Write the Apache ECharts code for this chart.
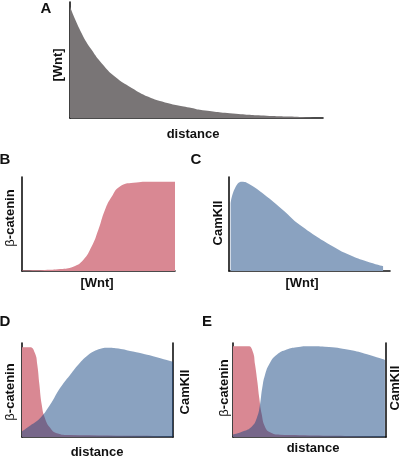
<!DOCTYPE html>
<html><head><meta charset="utf-8">
<script src="https://cdn.jsdelivr.net/npm/echarts@6/dist/echarts.min.js"></script>
<style>html,body{margin:0;padding:0;background:#fff}#c{width:400px;height:457px}</style>
</head><body><div id="c"></div><script>
// Panel A: [Wnt] vs distance
const aX = [0, 4.8, 8.9, 13, 18.4, 25.2, 32, 38.8, 49.7, 53, 66.5, 80.3, 93.9, 100];
const aY = [1.0, 0.76, 0.61, 0.49, 0.37, 0.27, 0.19, 0.14, 0.09, 0.074, 0.04, 0.02, 0.01, 0.005];
// Panel B: beta-catenin vs [Wnt]
const bX = [0, 15, 25, 33.5, 40, 45.5, 49.9, 54.2, 58.6, 64, 72.8, 85, 100];
const bY = [0.005, 0.01, 0.02, 0.046, 0.117, 0.26, 0.44, 0.65, 0.79, 0.90, 0.94, 0.95, 0.95];
// Panel C: CamKII vs [Wnt]
const cX = [1, 3.7, 8.1, 13, 23.6, 33.5, 44.1, 64.6, 75, 85.7, 95.7];
const cY = [0.72, 0.88, 0.95, 0.92, 0.79, 0.65, 0.49, 0.26, 0.17, 0.10, 0.05];
// Panel D: beta-catenin & CamKII vs distance
const dPinkX = [0, 5.3, 8.6, 10.1, 11.5, 13.1, 15.2, 18.5, 23, 31.8, 100];
const dPinkY = [0.955, 0.955, 0.89, 0.77, 0.56, 0.34, 0.20, 0.10, 0.04, 0.02, 0.01];
const dBlueX = [0, 5.3, 11.9, 18.5, 25.2, 31.8, 38.4, 44, 48, 52, 56, 62, 73.5, 86.8, 100];
const dBlueY = [0.06, 0.12, 0.20, 0.34, 0.52, 0.66, 0.79, 0.875, 0.915, 0.94, 0.95, 0.945, 0.91, 0.86, 0.80];
// Panel E
const ePinkX = [0, 10, 12.9, 14.4, 15.9, 17.2, 18.8, 20.9, 24.2, 30.7, 100];
const ePinkY = [0.965, 0.965, 0.91, 0.77, 0.59, 0.41, 0.24, 0.11, 0.05, 0.025, 0.01];
const eBlueX = [0, 6.7, 12.2, 15.5, 17.6, 19.1, 20.9, 24.2, 28.6, 35.1, 41.6, 50.3, 60, 76.5, 87.6, 99.3];
const eBlueY = [0.025, 0.06, 0.11, 0.2, 0.34, 0.52, 0.66, 0.79, 0.875, 0.93, 0.955, 0.965, 0.96, 0.925, 0.88, 0.82];

const zip = (xs, ys) => xs.map((x, i) => [x, ys[i]]);
const GRAY = '#797576', PINK = '#d98893', BLUE = '#8aa2c0', BLUE_T = 'rgba(21,69,129,0.5)';
const FF = '"Liberation Sans", Arial, Helvetica, sans-serif';
const axLine = {show: true, lineStyle: {color: '#111', width: 1.6}};
const xAx = (gi, max) => ({type: 'value', gridIndex: gi, min: 0, max: max, axisLine: axLine, axisTick: {show: false}, axisLabel: {show: false}, splitLine: {show: false}});
const yAx = (gi, max, pos) => ({type: 'value', gridIndex: gi, min: 0, max: max, position: pos || 'left', axisLine: axLine, axisTick: {show: false}, axisLabel: {show: false}, splitLine: {show: false}});
const area = (xi, yi, data, color, z) => ({type: 'line', xAxisIndex: xi, yAxisIndex: yi, data: data, smooth: 0.5, showSymbol: false, symbol: 'none', lineStyle: {width: 0}, areaStyle: {color: color, opacity: 1}, z: z || 2, silent: true});

const txt = (x, y, text, size, rot, extra) => Object.assign({
  type: 'text', x: x, y: y, rotation: rot || 0, silent: true,
  style: {text: text, font: 'bold ' + size + 'px ' + FF, fill: '#111', align: 'center', verticalAlign: 'middle', textAlign: 'center', textVerticalAlign: 'middle',
    rich: {r: {fontFamily: FF, fontSize: size, fontWeight: 'normal', fill: '#111'}}}
}, extra || {});
const R = Math.PI / 2;

const chart = echarts.init(document.getElementById('c'), null, {renderer: 'canvas'});
chart.setOption({
  animation: false,
  grid: [
    {left: 70, top: 2, width: 253, height: 116},
    {left: 22, top: 177, width: 153, height: 94},
    {left: 229, top: 177, width: 161, height: 94},
    {left: 22, top: 343, width: 151, height: 94},
    {left: 233, top: 343, width: 153, height: 94}
  ],
  xAxis: [xAx(0, 103.3), xAx(1, 100), xAx(2, 100), xAx(3, 100), xAx(4, 100)],
  yAxis: [yAx(0, 1.042), yAx(1, 1), yAx(2, 1), yAx(3, 1), yAx(4, 1), yAx(3, 1, 'right'), yAx(4, 1, 'right')],
  series: [
    area(0, 0, zip(aX, aY), GRAY),
    area(1, 1, zip(bX, bY), PINK),
    area(2, 2, zip(cX, cY), BLUE),
    area(3, 3, zip(dPinkX, dPinkY), PINK, 2),
    area(3, 3, zip(dBlueX, dBlueY), BLUE_T, 3),
    area(4, 4, zip(ePinkX, ePinkY), PINK, 2),
    area(4, 4, zip(eBlueX, eBlueY), BLUE_T, 3)
  ],
  graphic: [
    txt(46, 9, 'A', 15),
    txt(58, 65, '[Wnt]', 13, R),
    txt(193, 134, 'distance', 13),
    txt(5, 160, 'B', 15),
    txt(196, 160, 'C', 15),
    txt(10, 218, '{r|β}-catenin', 13, R),
    txt(97, 283, '[Wnt]', 13),
    txt(218, 223, 'CamKII', 13, R),
    txt(302, 283, '[Wnt]', 13),
    txt(5, 322, 'D', 15),
    txt(207, 322, 'E', 15),
    txt(10, 392, '{r|β}-catenin', 13, R),
    txt(185, 392, 'CamKII', 13, R),
    txt(97, 452, 'distance', 13),
    txt(224, 388, '{r|β}-catenin', 13, R),
    txt(395, 388, 'CamKII', 13, R),
    txt(313, 448, 'distance', 13)
  ]
});
</script></body></html>
